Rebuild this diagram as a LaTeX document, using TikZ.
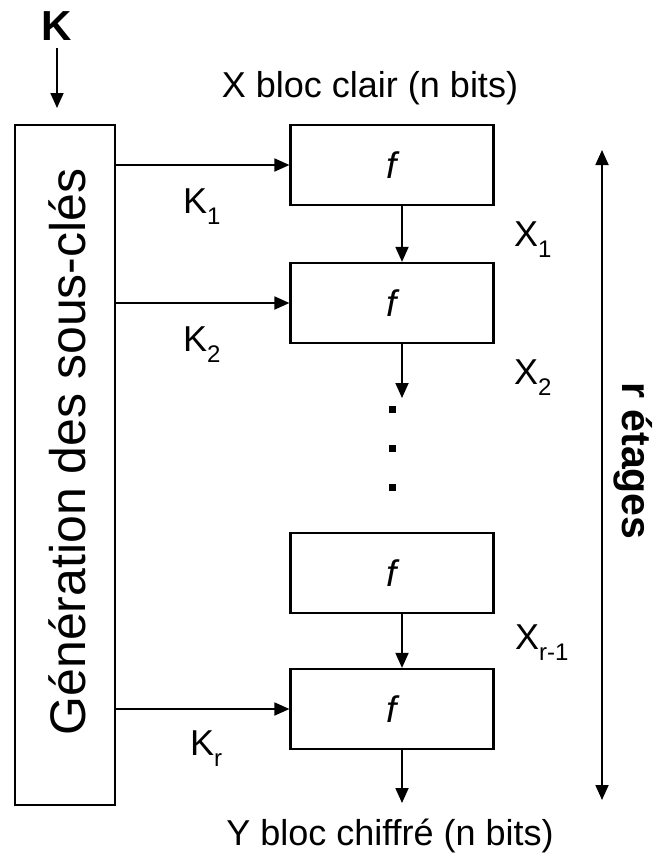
\documentclass[tikz,border=0pt]{standalone}
\usepackage{fontspec}
\setmainfont{Liberation Sans}
\usetikzlibrary{arrows.meta}
\newcommand{\subtx}[1]{\raisebox{-0.33em}{\fontsize{24}{26}\selectfont #1}}
\begin{document}
\begin{tikzpicture}[x=1pt,y=-1pt,
  fbox/.style={draw, line width=2.2pt, minimum width=203pt, minimum height=80pt, inner sep=0pt,
    font=\fontsize{37}{40}\selectfont\itshape},
  arr/.style={line width=1.8pt, -{Triangle[length=15pt,width=13pt]}},
  darr/.style={line width=1.8pt, {Triangle[length=15pt,width=13pt]}-{Triangle[length=15pt,width=13pt]}},
  lab/.style={font=\fontsize{36}{40}\selectfont, inner sep=0pt},
  dot/.style={fill, minimum size=7pt, inner sep=0pt}]
\useasboundingbox (0,0) rectangle (666,859);

% key
\node[lab, font=\fontsize{42}{46}\selectfont\bfseries] (K) at (57,26) {K};
\coordinate (kin) at (57,108);
\draw[arr] (57,48) -- (kin);

% sub-key generator
\node[draw, line width=2.2pt, minimum width=100pt, minimum height=680pt, inner sep=0pt] (gen) at (65,465) {};
\node[font=\fontsize{50}{54}\selectfont, rotate=90, inner sep=0pt] (gentxt) at (67,452) {Génération des sous-clés};

% rounds
\node[fbox] (f1) at (392,165) {f};
\node[fbox] (f2) at (392,303) {f};
\node[fbox] (f3) at (392,573) {f};
\node[fbox] (f4) at (392,709) {f};

\node[dot] (d1) at (392,409) {};
\node[dot] (d2) at (392,448) {};
\node[dot] (d3) at (392,487) {};

\node[lab] (xin) at (370,88) {X bloc clair (n bits)};
\node[lab] (yout) at (390,836) {Y bloc chiffré (n bits)};

% data flow
\coordinate (c2) at (402,398);
\coordinate (yend) at (402,803);
\draw[arr] ([xshift=10pt]f1.south) -- ([xshift=10pt]f2.north);
\draw[arr] ([xshift=10pt]f2.south) -- (c2);
\draw[arr] ([xshift=10pt]f3.south) -- ([xshift=10pt]f4.north);
\draw[arr] ([xshift=10pt]f4.south) -- (yend);

% subkeys
\draw[arr] (gen.east |- f1.west) -- (f1.west);
\draw[arr] (gen.east |- f2.west) -- (f2.west);
\draw[arr] (gen.east |- f4.west) -- (f4.west);

\node[lab, anchor=base west] (k1) at (183,213) {K\subtx{1}};
\node[lab, anchor=base west] (k2) at (183,351) {K\subtx{2}};
\node[lab, anchor=base west] (kr) at (190,755) {K\subtx{r}};

\node[lab, anchor=base west] (x1) at (514,246) {X\subtx{1}};
\node[lab, anchor=base west] (x2) at (514,384) {X\subtx{2}};
\node[lab, anchor=base west] (xr) at (515,649) {X\subtx{r-1}};

% stages
\coordinate (st) at (602,150);
\coordinate (sb) at (602,800);
\draw[darr] (st) -- (sb);
\node[font=\fontsize{41}{44}\selectfont\bfseries, rotate=-90, inner sep=0pt] (rlab) at (633,461) {r étages};
\end{tikzpicture}
\end{document}
